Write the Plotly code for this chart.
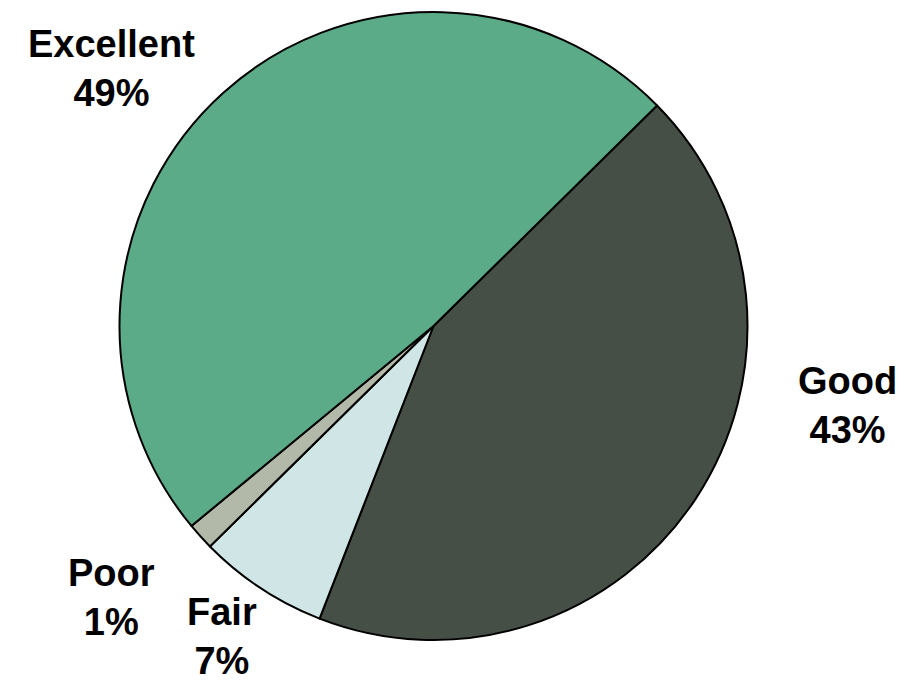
import plotly.graph_objects as go

labels = ["Good", "Fair", "Poor", "Excellent"]
values = [43.3, 6.7, 1.4, 48.6]
colors = ["#464F45", "#D0E6E6", "#B3B9A8", "#5BAA88"]

# page has an 8px body margin; figure sized to fill the rest of the window
OFF = 8
W, H = 904 - OFF, 686 - OFF

# label centres in window pixels
label_px = {
    "Good": (847, 406),
    "Fair": (222, 636),
    "Poor": (111, 597),
    "Excellent": (111, 69),
}

cx, cy, r = 433.5 - OFF, 326 - OFF, 314

fig = go.Figure(go.Pie(
    labels=labels,
    values=values,
    sort=False,
    direction="clockwise",
    rotation=45.4,
    marker=dict(colors=colors, line=dict(color="black", width=2)),
    textinfo="none",
    hoverinfo="label+percent",
    showlegend=False,
    domain=dict(x=[(cx - r) / W, (cx + r) / W], y=[1 - (cy + r) / H, 1 - (cy - r) / H]),
))

total = sum(values)
for lab, val in zip(labels, values):
    px, py = label_px[lab]
    fig.add_annotation(
        x=(px - OFF) / W, y=1 - (py - OFF) / H, xref="paper", yref="paper",
        text=f"<b>{lab}</b><br><b>{round(val / total * 100)}%</b>",
        showarrow=False, xanchor="center", yanchor="middle",
        font=dict(family="Liberation Sans, Arial, sans-serif", size=38, color="black"),
        align="center",
    )

fig.update_layout(
    width=W, height=H,
    margin=dict(l=0, r=0, t=0, b=0),
    paper_bgcolor="white", plot_bgcolor="white",
)

fig.write_html("out.html")
